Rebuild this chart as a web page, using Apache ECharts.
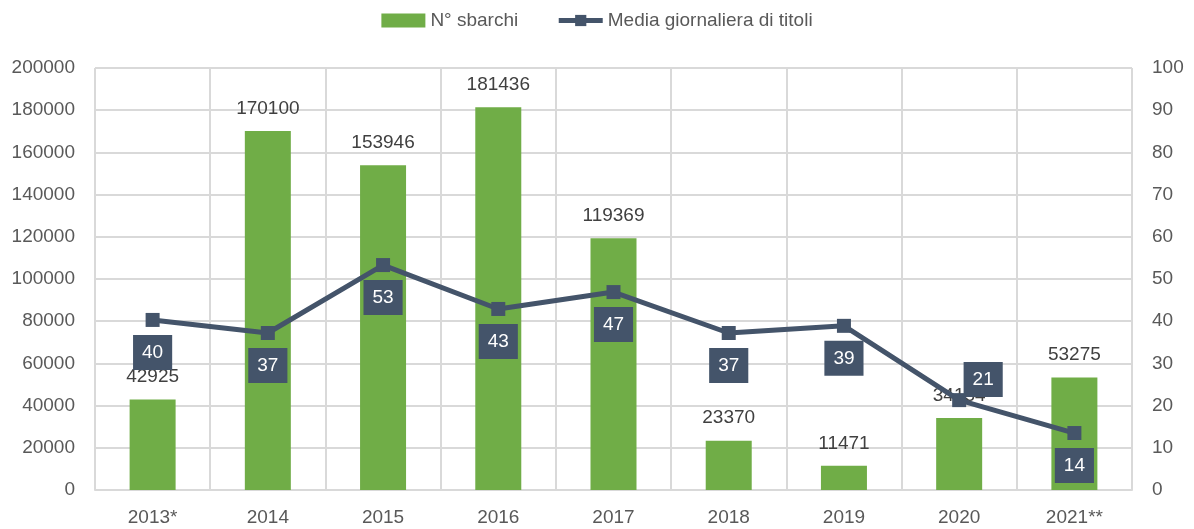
<!DOCTYPE html>
<html>
<head>
<meta charset="utf-8">
<script src="https://cdn.jsdelivr.net/npm/echarts@6/dist/echarts.min.js"></script>
<style>
  html, body { margin: 0; padding: 0; background: #fff; }
  #chart { width: 1194px; height: 529px; }
</style>
</head>
<body>
<div id="chart"></div>
<script>
  // dati
  const anni = ['2013*', '2014', '2015', '2016', '2017', '2018', '2019', '2020', '2021**'];
  const sbarchi = [42925, 170100, 153946, 181436, 119369, 23370, 11471, 34154, 53275];
  const mediaTitoli = [40.3, 37.2, 53.3, 42.9, 46.9, 37.2, 38.9, 21.3, 13.5];
  // etichetta sopra il punto solo per il 2020
  const labelSopra = [false, false, false, false, false, false, false, true, false];

  const font = 'Liberation Sans';
  const grigio = '#595959';

  var myChart = echarts.init(document.getElementById('chart'));

  var lineData = mediaTitoli.map(function (v, i) {
      if (labelSopra[i]) {
          return { value: v, label: { position: 'top', distance: -4, offset: [24, 0] } };
      }
      return v;
  });

  var option = {
      animation: false,
      textStyle: { fontFamily: font },
      legend: {
          top: 6,
          left: 'center',
          itemGap: 38,
          itemWidth: 44,
          itemHeight: 14,
          textStyle: { fontSize: 19, color: grigio, fontFamily: font },
          data: [
              { name: 'N° sbarchi', icon: 'rect', itemStyle: { color: '#70AD47' } },
              { name: 'Media giornaliera di titoli', lineStyle: { width: 5, color: '#44546A' } }
          ]
      },
      grid: { left: 95, right: 62, top: 68, bottom: 39 },
      xAxis: [{
          type: 'category',
          data: anni,
          axisTick: { show: false },
          axisLine: { lineStyle: { color: '#D9D9D9', width: 2 } },
          axisLabel: { color: grigio, fontSize: 19, margin: 18, fontFamily: font },
          splitLine: { show: true, lineStyle: { color: '#D9D9D9', width: 2 } }
      }],
      yAxis: [{
          type: 'value',
          min: 0, max: 200000, interval: 20000,
          axisLabel: {
              color: grigio, fontSize: 19, margin: 20, fontFamily: font,
              formatter: function (v) { return String(v); }
          },
          axisLine: { show: false },
          splitLine: { lineStyle: { color: '#D9D9D9', width: 2 } }
      }, {
          type: 'value',
          min: 0, max: 100, interval: 10,
          position: 'right',
          axisLabel: { color: grigio, fontSize: 19, margin: 20, fontFamily: font },
          axisLine: { show: false },
          splitLine: { show: false }
      }],
      series: [{
          name: 'N° sbarchi',
          type: 'bar',
          barWidth: 46,
          itemStyle: { color: '#70AD47' },
          label: {
              show: true,
              position: 'top',
              distance: 13,
              color: '#404040',
              fontSize: 19,
              fontFamily: font
          },
          data: sbarchi
      }, {
          name: 'Media giornaliera di titoli',
          type: 'line',
          yAxisIndex: 1,
          symbol: 'rect',
          symbolSize: 14,
          color: '#44546A',
          lineStyle: { color: '#44546A', width: 5 },
          itemStyle: { color: '#44546A' },
          label: {
              show: true,
              position: 'bottom',
              distance: 8,
              color: '#fff',
              fontSize: 19,
              fontFamily: font,
              backgroundColor: '#44546A',
              padding: [8, 9, 8, 9],
              formatter: function (p) { return Math.round(p.value); }
          },
          data: lineData
      }]
  };

  myChart.setOption(option);
</script>
</body>
</html>
